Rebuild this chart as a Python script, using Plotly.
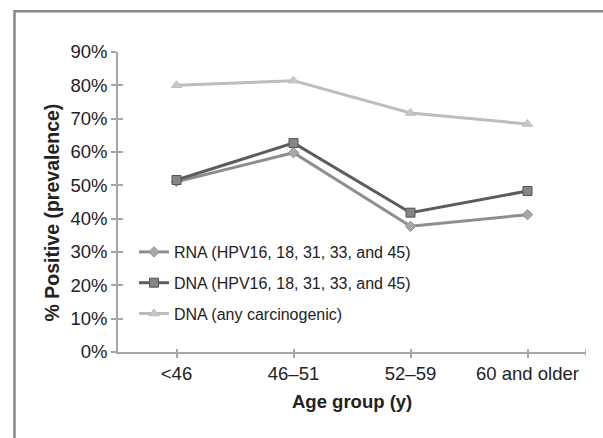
import plotly.graph_objects as go

age_groups = ["<46", "46–51", "52–59", "60 and older"]
rna_hpv = [51.1, 59.8, 37.7, 41.2]
dna_hpv = [51.6, 62.7, 41.8, 48.3]
dna_any = [80.0, 81.4, 71.7, 68.4]
series_names = ["RNA (HPV16, 18, 31, 33, and 45)",
                "DNA (HPV16, 18, 31, 33, and 45)",
                "DNA (any carcinogenic)"]
y_ticks = [0, 10, 20, 30, 40, 50, 60, 70, 80, 90]
y_tick_labels = [f"{v}%" for v in y_ticks]

W, H = 603, 438
L, R, T, B = 118, 17, 52, 86
pw, ph = W - L - R, H - T - B

fig = go.Figure()
styles = [
    dict(color="#8e8e8e", symbol="diamond", size=8, mcolor="#a8a8a8", mline="#8e8e8e"),
    dict(color="#5c5c5c", symbol="square", size=9, mcolor="#868686", mline="#555555"),
    dict(color="#bdbdbd", symbol="triangle-up", size=9, mcolor="#c8c8c8", mline="#bdbdbd"),
]
for i, (name, vals) in enumerate(zip(series_names, [rna_hpv, dna_hpv, dna_any])):
    s = styles[i]
    fig.add_trace(go.Scatter(
        x=age_groups, y=vals, name=name, mode="lines+markers",
        legendgroup=f"g{i}",
        line=dict(color=s["color"], width=3),
        marker=dict(symbol=s["symbol"], size=s["size"], color=s["mcolor"],
                    line=dict(color=s["mline"], width=1)),
    ))

axis_col = "#a6a6a6"
fig.update_layout(
    width=W, height=H,
    margin=dict(l=L, r=R, t=T, b=B),
    paper_bgcolor="white", plot_bgcolor="white",
    font=dict(family="Liberation Sans, Arial, sans-serif", color="#222222"),
    showlegend=True,
    legend=dict(x=(134 - L) / pw, xanchor="left", y=(H - B - 235) / ph, yanchor="top",
                bgcolor="rgba(0,0,0,0)", font=dict(size=16, color="#222222"),
                traceorder="grouped", tracegroupgap=7, itemwidth=30),
    xaxis=dict(type="category", categoryarray=age_groups, range=[-0.5, 3.5],
               showline=True, linecolor=axis_col, linewidth=1.5,
               ticks="outside", ticklen=4, tickcolor=axis_col, tickwidth=1.5,
               tickfont=dict(size=18.5, color="#222222"), showgrid=False, zeroline=False,
               fixedrange=True),
    xaxis2=dict(type="category", categoryarray=age_groups, matches="x", overlaying="x",
                anchor="y", showline=False, ticks="inside", ticklen=3,
                tickcolor=axis_col, tickwidth=1.5, showticklabels=False, showgrid=False),
    yaxis=dict(range=[0, 90], tickmode="array", tickvals=y_ticks, ticktext=y_tick_labels,
               showline=True, linecolor=axis_col, linewidth=1.5,
               ticks="outside", ticklen=5, tickcolor=axis_col, tickwidth=1.5,
               tickfont=dict(size=18.5, color="#222222"), showgrid=False, zeroline=False,
               fixedrange=True),
    yaxis2=dict(range=[0, 90], matches="y", overlaying="y", anchor="x",
                tickmode="array", tickvals=y_ticks, showline=False, ticks="inside", ticklen=5,
                tickcolor=axis_col, tickwidth=1.5, showticklabels=False, showgrid=False),
)
# invisible trace to activate overlay axes (for crossing tick marks)
fig.add_trace(go.Scatter(x=age_groups, y=dna_any, xaxis="x2", yaxis="y2",
                         mode="lines", line=dict(width=0), opacity=0,
                         showlegend=False, hoverinfo="skip"))

# right end tick of x axis
fig.add_shape(type="line", xref="x", yref="paper", x0=3.5, x1=3.5,
              y0=-4 / ph, y1=3 / ph, line=dict(color=axis_col, width=1.5))

# outer frame
fig.add_shape(type="rect", xref="paper", yref="paper",
              x0=(14.5 - L) / pw, x1=(W + 20 - L) / pw,
              y0=(H - B - (H + 20)) / ph, y1=(H - B - 11.2) / ph,
              line=dict(color="#888888", width=2.5), fillcolor="rgba(0,0,0,0)", layer="above")

fig.add_annotation(text="<b>Age group (y)</b>", xref="paper", yref="paper",
                   x=0.5, y=(H - B - 401.7) / ph, xanchor="center", yanchor="middle",
                   showarrow=False, font=dict(size=18.5, color="#222222"))
fig.add_annotation(text="<b>% Positive (prevalence)</b>", xref="paper", yref="paper",
                   x=(52 - L) / pw, y=(H - B - 212.5) / ph, xanchor="center", yanchor="middle",
                   textangle=-90, showarrow=False, font=dict(size=19.5, color="#222222"))

fig.write_html("out.html", config={"displayModeBar": False},
               post_script="document.body.style.margin='0';")
